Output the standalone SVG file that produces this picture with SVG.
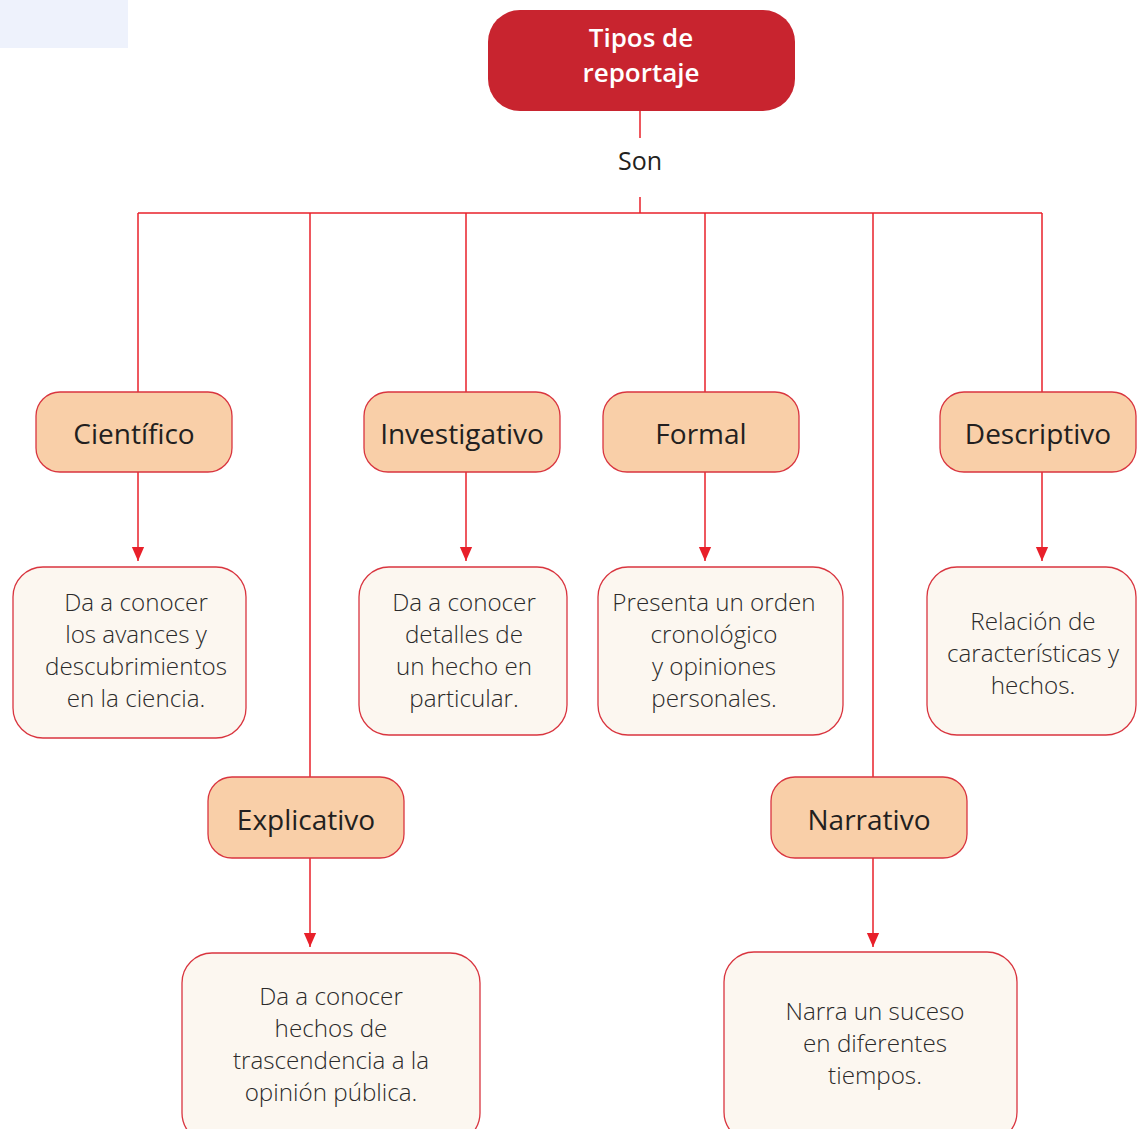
<svg xmlns="http://www.w3.org/2000/svg" width="1138" height="1129" viewBox="0 0 1138 1129">
<style>
.lbl{font-family:"Open Sans","Liberation Sans",sans-serif;font-size:28px;fill:#231f20;text-anchor:middle}
.dsc{font-family:"Open Sans","Liberation Sans",sans-serif;font-weight:300;font-size:24.2px;fill:#2b2a2a;text-anchor:middle}
.ttl{font-family:"Open Sans","Liberation Sans",sans-serif;font-weight:600;font-size:26px;fill:#fff;text-anchor:middle}
.n1{fill:#f9cfa8;stroke:#d9353f;stroke-width:1.3}
.n2{fill:#fcf7f0;stroke:#d9353f;stroke-width:1.3}
.c{stroke:#e8202a;stroke-width:1.5;fill:none}
</style>
<defs>
<marker id="arr" markerWidth="14" markerHeight="16" refX="16" refY="7" orient="auto" markerUnits="userSpaceOnUse" viewBox="0 0 16 14">
<path d="M0,0 L16,7 L0,14 Z" fill="#e8202a"/>
</marker>
</defs>
<rect x="0" y="0" width="128" height="48" fill="#eef2fc"/>
<g id="connectors">
<line class="c" x1="640" y1="111" x2="640" y2="138"/>
<line class="c" x1="640" y1="197" x2="640" y2="213"/>
<line class="c" x1="138" y1="213" x2="1042" y2="213"/>
<line class="c" x1="138" y1="213" x2="138" y2="392"/>
<line class="c" x1="310" y1="213" x2="310" y2="777"/>
<line class="c" x1="466" y1="213" x2="466" y2="392"/>
<line class="c" x1="705" y1="213" x2="705" y2="392"/>
<line class="c" x1="873" y1="213" x2="873" y2="777"/>
<line class="c" x1="1042" y1="213" x2="1042" y2="392"/>
<line class="c" x1="138" y1="472" x2="138" y2="561" marker-end="url(#arr)"/>
<line class="c" x1="466" y1="472" x2="466" y2="561" marker-end="url(#arr)"/>
<line class="c" x1="705" y1="472" x2="705" y2="561" marker-end="url(#arr)"/>
<line class="c" x1="1042" y1="472" x2="1042" y2="561" marker-end="url(#arr)"/>
<line class="c" x1="310" y1="858" x2="310" y2="947" marker-end="url(#arr)"/>
<line class="c" x1="873" y1="858" x2="873" y2="947" marker-end="url(#arr)"/>
</g>
<g id="root">
<rect x="488" y="10" width="307" height="101" rx="32" fill="#c8242f"/>
<text class="ttl" x="641" y="47">Tipos de</text>
<text class="ttl" x="641" y="82">reportaje</text>
</g>
<g id="son">
<text x="640" y="170" font-family="'Open Sans','Liberation Sans',sans-serif" font-size="25" fill="#231f20" text-anchor="middle">Son</text>
</g>
<g id="cientifico">
<rect class="n1" x="36" y="392" width="196" height="80" rx="24"/>
<text class="lbl" x="134" y="444">Científico</text>
</g>
<g id="investigativo">
<rect class="n1" x="364" y="392" width="196" height="80" rx="24"/>
<text class="lbl" x="462" y="444">Investigativo</text>
</g>
<g id="formal">
<rect class="n1" x="603" y="392" width="196" height="80" rx="24"/>
<text class="lbl" x="701" y="444">Formal</text>
</g>
<g id="descriptivo">
<rect class="n1" x="940" y="392" width="196" height="80" rx="24"/>
<text class="lbl" x="1038" y="444">Descriptivo</text>
</g>
<g id="explicativo">
<rect class="n1" x="208" y="777" width="196" height="81" rx="24"/>
<text class="lbl" x="306" y="830">Explicativo</text>
</g>
<g id="narrativo">
<rect class="n1" x="771" y="777" width="196" height="81" rx="24"/>
<text class="lbl" x="869" y="830">Narrativo</text>
</g>
<g id="cientifico-desc">
<rect class="n2" x="13" y="567" width="233" height="171" rx="30"/>
<text class="dsc" x="136" y="611">Da a conocer</text>
<text class="dsc" x="136" y="643">los avances y</text>
<text class="dsc" x="136" y="675">descubrimientos</text>
<text class="dsc" x="136" y="707">en la ciencia.</text>
</g>
<g id="investigativo-desc">
<rect class="n2" x="359" y="567" width="208" height="168" rx="30"/>
<text class="dsc" x="464" y="611">Da a conocer</text>
<text class="dsc" x="464" y="643">detalles de</text>
<text class="dsc" x="464" y="675">un hecho en</text>
<text class="dsc" x="464" y="707">particular.</text>
</g>
<g id="formal-desc">
<rect class="n2" x="598" y="567" width="245" height="168" rx="30"/>
<text class="dsc" x="714" y="611">Presenta un orden</text>
<text class="dsc" x="714" y="643">cronológico</text>
<text class="dsc" x="714" y="675">y opiniones</text>
<text class="dsc" x="714" y="707">personales.</text>
</g>
<g id="descriptivo-desc">
<rect class="n2" x="927" y="567" width="209" height="168" rx="30"/>
<text class="dsc" x="1033" y="630">Relación de</text>
<text class="dsc" x="1033" y="662">características y</text>
<text class="dsc" x="1033" y="694">hechos.</text>
</g>
<g id="explicativo-desc">
<rect class="n2" x="182" y="953" width="298" height="190" rx="30"/>
<text class="dsc" x="331" y="1005">Da a conocer</text>
<text class="dsc" x="331" y="1037">hechos de</text>
<text class="dsc" x="331" y="1069">trascendencia a la</text>
<text class="dsc" x="331" y="1101">opinión pública.</text>
</g>
<g id="narrativo-desc">
<rect class="n2" x="724" y="952" width="293" height="190" rx="30"/>
<text class="dsc" x="875" y="1020">Narra un suceso</text>
<text class="dsc" x="875" y="1052">en diferentes</text>
<text class="dsc" x="875" y="1084">tiempos.</text>
</g>
</svg>
